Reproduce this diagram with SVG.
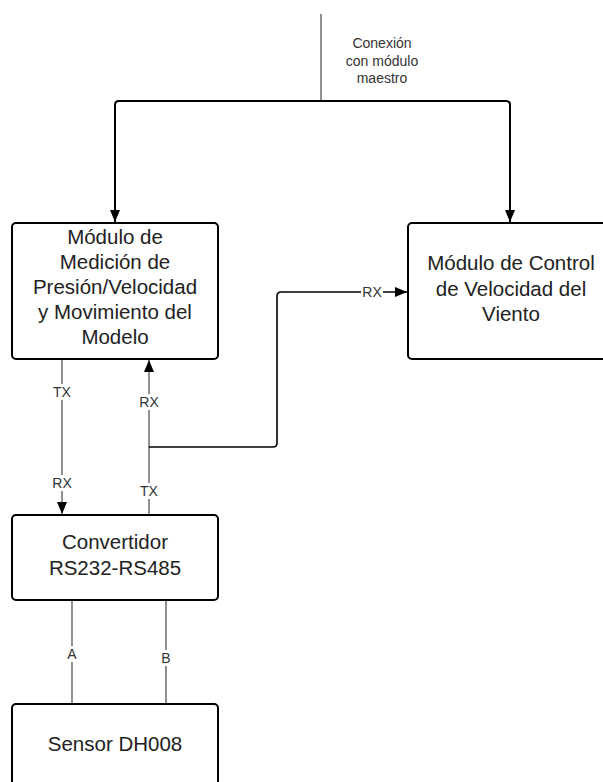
<svg xmlns="http://www.w3.org/2000/svg" width="603" height="782" viewBox="0 0 603 782">
<style>
.box{fill:#fff;stroke:#000;stroke-width:2}
.t{font-family:"Liberation Sans",Arial,sans-serif;font-size:20.5px;fill:#222;text-anchor:middle}
.lbl{font-family:"Liberation Sans",Arial,sans-serif;font-size:14px;fill:#333;text-anchor:middle}
.thick{fill:none;stroke:#000;stroke-width:2}
.thin{fill:none;stroke:#555;stroke-width:1.3}
.bg{fill:#fff}
</style>
<defs>
<marker id="ah" markerUnits="userSpaceOnUse" markerWidth="13" markerHeight="11" refX="12" refY="5" orient="auto">
<path d="M0,0 L12,5 L0,10 z" fill="#000"/>
</marker>
</defs>
<g id="connectors">
<path class="thin" d="M321,14 V101"/>
<path class="thick" d="M321,101 H119 Q115,101 115,105 V222" marker-end="url(#ah)"/>
<path class="thick" d="M321,101 H506 Q510,101 510,105 V222" marker-end="url(#ah)"/>
<path class="thin" d="M62,360 V514" marker-end="url(#ah)"/>
<path class="thin" d="M149,515 V360" marker-end="url(#ah)"/>
<path class="thick" style="stroke-width:1.6" d="M149,447 H273 Q277,447 277,443 V296 Q277,292 281,292 H407" marker-end="url(#ah)"/>
<path class="thin" d="M72,600 V704"/>
<path class="thin" d="M166,600 V704"/>
<rect class="bg" x="52" y="384" width="20" height="16"/>
<text class="lbl" x="62" y="397">TX</text>
<rect class="bg" x="52" y="475" width="20" height="16"/>
<text class="lbl" x="62" y="488">RX</text>
<rect class="bg" x="139" y="394" width="20" height="16"/>
<text class="lbl" x="149" y="407">RX</text>
<rect class="bg" x="139" y="483" width="20" height="16"/>
<text class="lbl" x="149" y="496">TX</text>
<rect class="bg" x="361" y="284" width="22" height="16"/>
<text class="lbl" x="372" y="297">RX</text>
<rect class="bg" x="65" y="646" width="14" height="16"/>
<text class="lbl" x="72" y="659">A</text>
<rect class="bg" x="159" y="650" width="14" height="16"/>
<text class="lbl" x="166" y="663">B</text>
<text class="lbl" x="382" y="48">Conexión</text>
<text class="lbl" x="382" y="66">con módulo</text>
<text class="lbl" x="382" y="83">maestro</text>
</g>
<g id="node-medicion">
<rect class="box" x="12" y="223" width="206" height="136" rx="4"/>
<text class="t" x="115" y="244">Módulo de</text>
<text class="t" x="115" y="269">Medición de</text>
<text class="t" x="115" y="294">Presión/Velocidad</text>
<text class="t" x="115" y="319">y Movimiento del</text>
<text class="t" x="115" y="344">Modelo</text>
</g>
<g id="node-control">
<rect class="box" x="408" y="223" width="206" height="136" rx="4"/>
<text class="t" x="511" y="270">Módulo de Control</text>
<text class="t" x="511" y="296">de Velocidad del</text>
<text class="t" x="511" y="321">Viento</text>
</g>
<g id="node-convertidor">
<rect class="box" x="12" y="515" width="206" height="85" rx="4"/>
<text class="t" x="115" y="549">Convertidor</text>
<text class="t" x="115" y="575">RS232-RS485</text>
</g>
<g id="node-sensor">
<rect class="box" x="12" y="704" width="206" height="100" rx="4"/>
<text class="t" x="115" y="751">Sensor DH008</text>
</g>
</svg>
